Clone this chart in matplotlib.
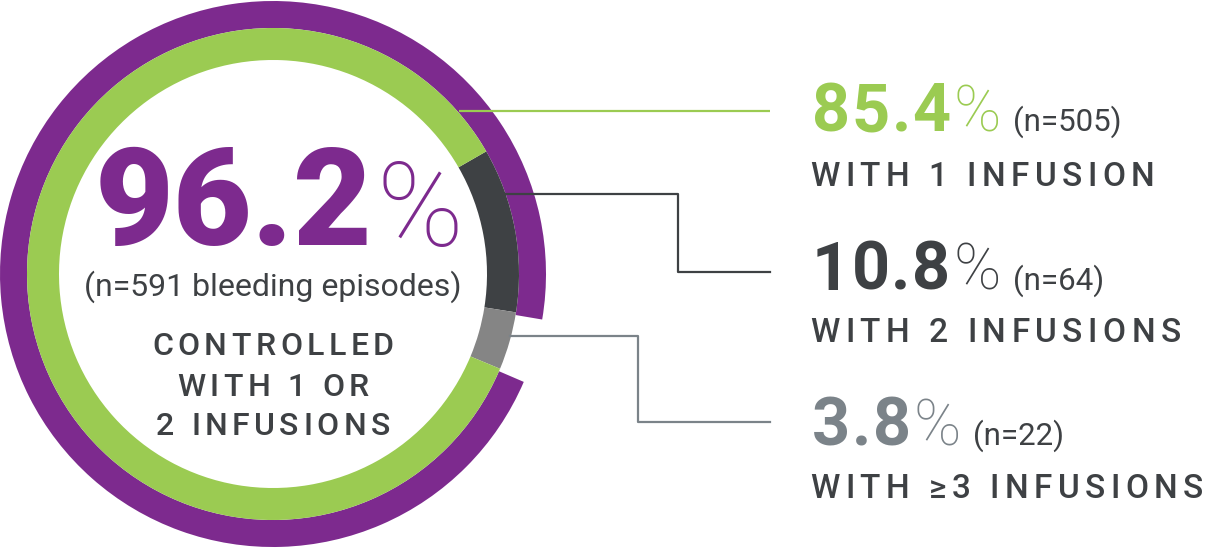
import matplotlib.pyplot as plt
import numpy as np

W, H = 1214, 548

# data
labels = ['WITH 1 INFUSION', 'WITH 2 INFUSIONS', 'WITH \u22653 INFUSIONS']
pcts = [85.4, 10.8, 3.8]
counts = [505, 64, 22]
total_pct = 96.2
total_n = 591
center_lines = ['CONTROLLED', 'WITH 1 OR', '2 INFUSIONS']

PURPLE = '#7D2A8E'
GREEN = '#9BCB52'
DARK = '#3E4144'
GRAY = '#858585'
GRAY_TXT = '#7B8389'
TXT = '#3E4144'

plt.rcParams['font.family'] = ['Roboto', 'DejaVu Sans']

fig = plt.figure(figsize=(W / 100, H / 100), dpi=100)
ax = fig.add_axes([0, 0, 1, 1])

cx, cy = 273, H - 274

# outer purple ring (1 or 2 infusions), gap = >=3 infusions
ax.pie([total_pct, 100 - total_pct], radius=273, center=(cx, cy),
       startangle=-9.6, counterclock=True, colors=[PURPLE, 'none'],
       wedgeprops=dict(width=27, linewidth=0))
# inner ring: 2 infusions, >=3, 1 infusion (clockwise)
ax.pie([pcts[1], pcts[2], pcts[0]], radius=246, center=(cx, cy),
       startangle=29.9, counterclock=False, colors=[DARK, GRAY, GREEN],
       wedgeprops=dict(width=32, linewidth=0))

ax.set_xlim(0, W)
ax.set_ylim(0, H)
ax.set_aspect('equal')
ax.axis('off')


def yy(y):
    return H - y


# leader lines (image pixel coords)
ax.plot([459, 770], [yy(111), yy(111)], color=GREEN, lw=1.6, solid_capstyle='butt')
ax.plot([505, 678, 678, 770], [yy(194), yy(194), yy(272), yy(272)], color=DARK, lw=1.6)
ax.plot([510, 638, 638, 770], [yy(336), yy(336), yy(422), yy(422)], color=GRAY_TXT, lw=1.6)

renderer = fig.canvas.get_renderer()


def text_w(s, **kw):
    t = ax.text(0, 0, s, **kw)
    w = t.get_window_extent(renderer=renderer).width
    t.remove()
    return w


def tracked(x, y, s, track, ha='left', **kw):
    # draw a string char by char with extra letter spacing
    base = text_w('||', **kw)
    pos = [text_w('|' + s[:i] + '|', **kw) - base for i in range(len(s) + 1)]
    total = pos[-1] + track * (len(s) - 1)
    if ha == 'center':
        x0 = x - total / 2
    elif ha == 'right':
        x0 = x - total
    else:
        x0 = x
    for i, ch in enumerate(s):
        if ch != ' ':
            ax.text(x0 + pos[i] + i * track, y, ch, ha='left', va='baseline', **kw)
    return x0 + total


# center block
big = dict(fontsize=98, fontweight='black', color=PURPLE)
pct_big = dict(fontsize=84, fontweight='light', color=PURPLE)
bw = text_w('%.1f' % total_pct, **big)
pw = text_w('%', **pct_big)
x0 = 279 - (bw + 4 + pw) / 2
ax.text(x0, yy(245), '%.1f' % total_pct, ha='left', va='baseline', **big)
ax.text(x0 + bw + 4, yy(246), '%', ha='left', va='baseline', **pct_big)
ax.text(cx, yy(296), '(n=%d bleeding episodes)' % total_n, fontsize=23,
        color=TXT, ha='center', va='baseline')
for s, base in zip(center_lines, [355, 396, 435]):
    tracked(cx, yy(base), s, 4.5, ha='center', fontsize=23,
            fontweight='medium', color=TXT)

# right block
num_colors = [GREEN, DARK, GRAY_TXT]
num_base = [131, 290, 445]
lab_base = [186, 342, 498]
for lab, p, n, c, nb, lb in zip(labels, pcts, counts, num_colors, num_base, lab_base):
    e = tracked(812, yy(nb), '%.1f' % p, 1.5, fontsize=48, fontweight='bold', color=c)
    pw = text_w('%', fontsize=46, fontweight='light')
    ax.text(e + 3, yy(nb), '%', fontsize=46, fontweight='light', color=c,
            va='baseline', ha='left')
    ax.text(e + 3 + pw + 12, yy(nb), '(n=%d)' % n, fontsize=22.5, color=TXT,
            va='baseline', ha='left')
    tracked(810, yy(lb), lab, 5.5, fontsize=24, fontweight='medium', color=TXT)

fig.savefig('out.png', dpi=100, facecolor='white')
